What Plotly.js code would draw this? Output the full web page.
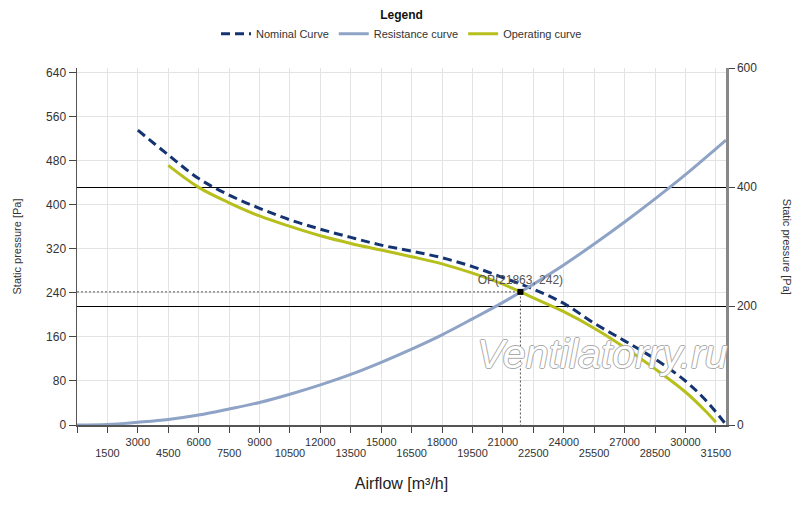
<!DOCTYPE html>
<html>
<head>
<meta charset="utf-8">
<script src="https://cdn.plot.ly/plotly-3.0.1.min.js"></script>
<style>
    html, body { margin: 0; padding: 0; background: #fff; }
    #chart { width: 800px; height: 507px; }
</style>
</head>
<body>
<div id="chart"></div>
<script>
// values
const nominalFlow = [3000, 4500, 6000, 7500, 9000, 10500, 12000, 13500, 15000, 16500, 18000, 19500, 21000, 22500, 24000, 25500, 27000, 28500, 30000, 31000, 31950]
const nominalPressure = [536, 491, 448, 418, 394, 373, 356, 341, 327, 316, 304, 288, 268, 247, 221, 185, 153, 120, 80, 45, 3]

const resistanceFlow = [0, 1500, 3000, 4500, 6000, 7500, 9000, 10500, 12000, 13500, 15000, 16500, 18000, 19500, 21000, 22500, 24000, 25500, 27000, 28500, 30000, 31500, 32000]
const resistancePressure = [0, 1, 5, 10, 18, 29, 41, 56, 73, 92, 114, 138, 164, 193, 223, 256, 291, 329, 369, 411, 455, 502, 518]

const operatingFlow = [4500, 6000, 7500, 9000, 10500, 12000, 13500, 15000, 16500, 18000, 19500, 21000, 21863, 22500, 24000, 25500, 27000, 28500, 30000, 31000, 31500]
const operatingPressure = [472, 432, 404, 380, 361, 344, 330, 318, 306, 293, 276, 256, 242, 231, 206, 176, 141, 102, 60, 25, 5]

const opFlow = 21863
const opPressure = 242

// bottom axis labels, two staggered rows
const rowOneTicks = [3000, 6000, 9000, 12000, 15000, 18000, 21000, 24000, 27000, 30000]
const rowTwoTicks = [1500, 4500, 7500, 10500, 13500, 16500, 19500, 22500, 25500, 28500, 31500]
const rightTicks = [0, 200, 400, 600]

const fontFamily = '"Liberation Sans", Arial, sans-serif'
const textColor = '#333'

let allTicks = rowOneTicks.concat(rowTwoTicks).concat([0]).sort((a, b) => a - b)

let plotData = [
    {
        type: 'scatter',
        x: nominalFlow,
        y: nominalPressure,
        mode: 'lines',
        name: 'Nominal Curve',
        line: { color: '#143371', width: 3, dash: '9px,5px', shape: 'spline' },
        hoverinfo: 'skip'
    },
    {
        type: 'scatter',
        x: resistanceFlow,
        y: resistancePressure,
        mode: 'lines',
        name: 'Resistance curve',
        line: { color: '#8ea3c5', width: 3, shape: 'spline' },
        hoverinfo: 'skip'
    },
    {
        type: 'scatter',
        x: operatingFlow,
        y: operatingPressure,
        mode: 'lines',
        name: 'Operating curve',
        line: { color: '#b7bf1c', width: 3, shape: 'spline' },
        hoverinfo: 'skip'
    },
    {
        // dotted guides to the operating point
        type: 'scatter',
        x: [0, opFlow, opFlow],
        y: [opPressure, opPressure, 0],
        mode: 'lines',
        line: { color: '#555', width: 1, dash: '2px,2px' },
        showlegend: false,
        hoverinfo: 'skip'
    },
    {
        type: 'scatter',
        x: [opFlow],
        y: [opPressure],
        mode: 'markers+text',
        marker: { symbol: 'square', size: 6, color: '#000' },
        text: ['OP(' + opFlow + ', ' + opPressure + ')'],
        textposition: 'top center',
        textfont: { family: fontFamily, size: 12, color: '#555' },
        showlegend: false,
        hoverinfo: 'skip'
    },
    {
        // keeps the second axes alive
        type: 'scatter',
        x: [0],
        y: [0],
        xaxis: 'x2',
        yaxis: 'y2',
        mode: 'markers',
        marker: { opacity: 0 },
        showlegend: false,
        hoverinfo: 'skip'
    }
]

let plotLayout = {
    width: 800,
    height: 507,
    margin: { l: 77, r: 74, t: 68, b: 82, autoexpand: false },
    paper_bgcolor: '#fff',
    plot_bgcolor: '#fff',
    font: { family: fontFamily, size: 11, color: textColor },
    showlegend: true,
    legend: {
        orientation: 'h',
        x: 0.5,
        xanchor: 'center',
        y: 1.18,
        yanchor: 'top',
        title: { text: '<b>Legend</b>', side: 'top center', font: { size: 12, color: '#111' } },
        font: { size: 11, color: textColor },
        itemwidth: 30,
        tracegroupgap: 0
    },
    xaxis: {
        range: [0, 32000],
        tickmode: 'array',
        tickvals: allTicks,
        ticktext: allTicks.map(v => rowOneTicks.includes(v) ? String(v) : ''),
        ticks: 'outside',
        ticklen: 6,
        tickcolor: '#444',
        tickfont: { size: 11, color: textColor },
        showgrid: true,
        gridcolor: '#e3e3e3',
        showline: true,
        linecolor: '#555',
        linewidth: 1.5,
        zeroline: false,
        title: { text: 'Airflow [m³/h]', font: { size: 16, color: '#222' }, standoff: 31 }
    },
    xaxis2: {
        range: [0, 32000],
        overlaying: 'x',
        anchor: 'y',
        side: 'bottom',
        tickmode: 'array',
        tickvals: rowTwoTicks,
        ticktext: rowTwoTicks.map(String),
        ticks: '',
        ticklabelstandoff: 20,
        tickfont: { size: 11, color: textColor },
        showgrid: false,
        showline: false,
        zeroline: false
    },
    yaxis: {
        range: [0, 649],
        dtick: 80,
        tick0: 0,
        ticks: 'outside',
        ticklen: 7,
        tickcolor: '#444',
        tickfont: { size: 12, color: textColor },
        showgrid: true,
        gridcolor: '#e3e3e3',
        showline: true,
        linecolor: '#555',
        linewidth: 1.5,
        zeroline: false,
        title: { text: 'Static pressure [Pa]', font: { size: 11, color: textColor }, standoff: 22 }
    },
    yaxis2: {
        range: [0, 600],
        overlaying: 'y',
        side: 'right',
        tickmode: 'array',
        tickvals: rightTicks,
        ticks: 'outside',
        ticklen: 6,
        tickcolor: '#444',
        tickfont: { size: 12, color: textColor },
        showgrid: true,
        gridcolor: '#000',
        gridwidth: 1,
        showline: true,
        linecolor: '#888',
        linewidth: 2.5,
        zeroline: false
    },
    annotations: [
        {
            // right axis title reads top to bottom
            xref: 'paper', yref: 'paper',
            x: 1.095, y: 0.5,
            xanchor: 'center', yanchor: 'middle',
            text: 'Static pressure [Pa]',
            textangle: 90,
            showarrow: false,
            font: { size: 11, color: textColor }
        },
        {
            xref: 'paper', yref: 'paper',
            x: 0.81, y: 0.2,
            xanchor: 'center', yanchor: 'middle',
            text: 'Ventilatorry.ru',
            showarrow: false,
            font: {
                size: 41,
                color: '#fff',
                style: 'italic',
                shadow: '1px 0 0 #aaa, -1px 0 0 #aaa, 0 1px 0 #aaa, 0 -1px 0 #aaa'
            }
        }
    ]
}

Plotly.newPlot('chart', plotData, plotLayout, { staticPlot: true })
</script>
</body>
</html>
